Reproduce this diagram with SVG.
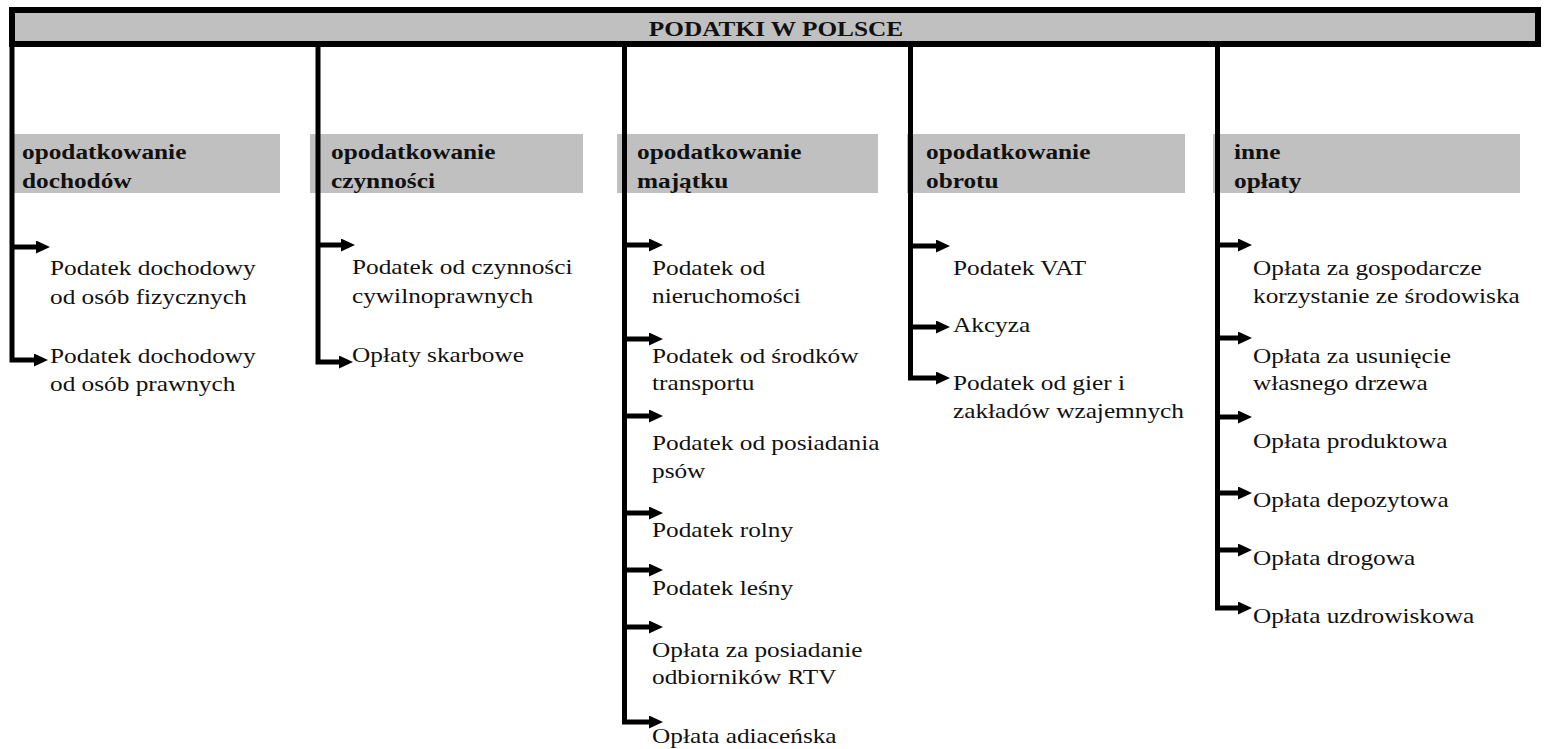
<svg xmlns="http://www.w3.org/2000/svg" width="1544" height="749" viewBox="0 0 1544 749">
<defs>
<style>
.bar{fill:#c0c0c0;stroke:#000;stroke-width:6}
.cat{fill:#c0c0c0}
.conn{fill:none;stroke:#000;stroke-width:5;stroke-linejoin:miter;marker-end:url(#ah)}
.trunk{fill:none;stroke:#000;stroke-width:5;stroke-linejoin:miter}
.t{font-family:"Liberation Serif","Times New Roman",serif;font-size:22px;fill:#111}
.b{font-family:"Liberation Serif","Times New Roman",serif;font-size:22px;font-weight:bold;fill:#111}
</style>
<marker id="ah" viewBox="0 0 14 13" refX="2" refY="6.5" markerWidth="14" markerHeight="13" markerUnits="userSpaceOnUse" orient="auto">
<path d="M0,0 L14,6.5 L0,13 z" fill="#000"/>
</marker>
</defs>
<rect width="1544" height="749" fill="#fff"/>

<g id="root">
<rect class="bar" x="12" y="10" width="1526" height="34"/>
<text class="b" text-anchor="middle" transform="translate(776,36) scale(1.15,1)">PODATKI W POLSCE</text>
</g>

<g id="cat-dochody">
<rect class="cat" x="12" y="134" width="268" height="59"/>
<text class="b" transform="translate(22,159) scale(1.15,1)"><tspan x="0" y="0">opodatkowanie</tspan><tspan x="0" y="29">dochodów</tspan></text>
</g>
<g id="cat-czynnosci">
<rect class="cat" x="310" y="134" width="273" height="59"/>
<text class="b" transform="translate(331,159) scale(1.15,1)"><tspan x="0" y="0">opodatkowanie</tspan><tspan x="0" y="29">czynności</tspan></text>
</g>
<g id="cat-majatek">
<rect class="cat" x="617" y="134" width="261" height="59"/>
<text class="b" transform="translate(637,159) scale(1.15,1)"><tspan x="0" y="0">opodatkowanie</tspan><tspan x="0" y="29">majątku</tspan></text>
</g>
<g id="cat-obrot">
<rect class="cat" x="907" y="134" width="278" height="59"/>
<text class="b" transform="translate(926,159) scale(1.15,1)"><tspan x="0" y="0">opodatkowanie</tspan><tspan x="0" y="29">obrotu</tspan></text>
</g>
<g id="cat-inne">
<rect class="cat" x="1213" y="134" width="307" height="59"/>
<text class="b" transform="translate(1234,159) scale(1.15,1)"><tspan x="0" y="0">inne</tspan><tspan x="0" y="29">opłaty</tspan></text>
</g>

<g id="connectors">
<path class="conn" d="M12,44 V360 H36"/>
<path class="conn" d="M12,247 H38"/>
<path class="conn" d="M318,44 V362 H341"/>
<path class="conn" d="M318,245 H343"/>
<path class="conn" d="M624.5,44 V722 H651"/>
<path class="conn" d="M624.5,245 H651"/>
<path class="conn" d="M624.5,339 H651"/>
<path class="conn" d="M624.5,416 H651"/>
<path class="conn" d="M624.5,513 H651"/>
<path class="conn" d="M624.5,570 H651"/>
<path class="conn" d="M624.5,627 H651"/>
<path class="conn" d="M910.5,44 V378 H938"/>
<path class="conn" d="M910.5,246 H938"/>
<path class="conn" d="M910.5,327 H938"/>
<path class="conn" d="M1217.5,44 V608 H1240"/>
<path class="conn" d="M1217.5,245 H1240"/>
<path class="conn" d="M1217.5,338 H1240"/>
<path class="conn" d="M1217.5,417 H1240"/>
<path class="conn" d="M1217.5,493 H1240"/>
<path class="conn" d="M1217.5,550 H1240"/>
</g>

<g id="n-pdof"><text class="t" transform="translate(50,275) scale(1.15,1)"><tspan x="0" y="0">Podatek dochodowy</tspan><tspan x="0" y="29">od osób fizycznych</tspan></text></g>
<g id="n-pdop"><text class="t" transform="translate(50,363) scale(1.15,1)"><tspan x="0" y="0">Podatek dochodowy</tspan><tspan x="0" y="28">od osób prawnych</tspan></text></g>

<g id="n-pcc"><text class="t" transform="translate(352,274) scale(1.15,1)"><tspan x="0" y="0">Podatek od czynności</tspan><tspan x="0" y="29">cywilnoprawnych</tspan></text></g>
<g id="n-skarbowe"><text class="t" transform="translate(352,362) scale(1.15,1)">Opłaty skarbowe</text></g>

<g id="n-nieruch"><text class="t" transform="translate(652,275) scale(1.15,1)"><tspan x="0" y="0">Podatek od</tspan><tspan x="0" y="28">nieruchomości</tspan></text></g>
<g id="n-transport"><text class="t" transform="translate(652,363) scale(1.15,1)"><tspan x="0" y="0">Podatek od środków</tspan><tspan x="0" y="27">transportu</tspan></text></g>
<g id="n-psy"><text class="t" transform="translate(652,450) scale(1.15,1)"><tspan x="0" y="0">Podatek od posiadania</tspan><tspan x="0" y="28">psów</tspan></text></g>
<g id="n-rolny"><text class="t" transform="translate(652,537) scale(1.15,1)">Podatek rolny</text></g>
<g id="n-lesny"><text class="t" transform="translate(652,595) scale(1.15,1)">Podatek leśny</text></g>
<g id="n-rtv"><text class="t" transform="translate(652,657) scale(1.15,1)"><tspan x="0" y="0">Opłata za posiadanie</tspan><tspan x="0" y="27">odbiorników RTV</tspan></text></g>
<g id="n-adiacenska"><text class="t" transform="translate(652,743) scale(1.15,1)">Opłata adiaceńska</text></g>

<g id="n-vat"><text class="t" transform="translate(953,275) scale(1.15,1)">Podatek VAT</text></g>
<g id="n-akcyza"><text class="t" transform="translate(953,332) scale(1.15,1)">Akcyza</text></g>
<g id="n-gry"><text class="t" transform="translate(953,390) scale(1.15,1)"><tspan x="0" y="0">Podatek od gier i</tspan><tspan x="0" y="28">zakładów wzajemnych</tspan></text></g>

<g id="n-srodowisko"><text class="t" transform="translate(1253,275) scale(1.15,1)"><tspan x="0" y="0">Opłata za gospodarcze</tspan><tspan x="0" y="28">korzystanie ze środowiska</tspan></text></g>
<g id="n-drzewo"><text class="t" transform="translate(1253,363) scale(1.15,1)"><tspan x="0" y="0">Opłata za usunięcie</tspan><tspan x="0" y="27">własnego drzewa</tspan></text></g>
<g id="n-produktowa"><text class="t" transform="translate(1253,448) scale(1.15,1)">Opłata produktowa</text></g>
<g id="n-depozytowa"><text class="t" transform="translate(1253,507) scale(1.15,1)">Opłata depozytowa</text></g>
<g id="n-drogowa"><text class="t" transform="translate(1253,565) scale(1.15,1)">Opłata drogowa</text></g>
<g id="n-uzdrowiskowa"><text class="t" transform="translate(1253,623) scale(1.15,1)">Opłata uzdrowiskowa</text></g>
</svg>
